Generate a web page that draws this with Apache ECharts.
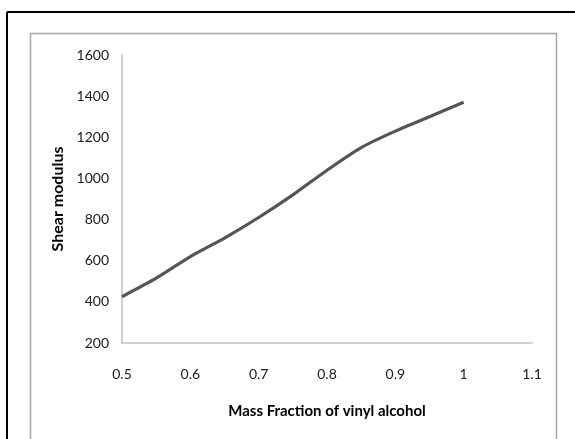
<!DOCTYPE html>
<html>
<head>
<meta charset="utf-8">
<script src="https://cdn.jsdelivr.net/npm/echarts@6/dist/echarts.min.js"></script>
<style>
  html, body { margin: 0; padding: 0; background: #fff; }
  #chart { width: 575px; height: 439px; }
</style>
</head>
<body>
<div id="chart"></div>
<script>
// Shear modulus versus mass fraction of vinyl alcohol
const massFraction = [0.5, 0.55, 0.6, 0.65, 0.7, 0.75, 0.8, 0.85, 0.9, 0.95, 1.0];
const shearModulus = [425, 515, 620, 710, 810, 920, 1040, 1150, 1230, 1300, 1370];
const xTitle = 'Mass Fraction of vinyl alcohol';
const yTitle = 'Shear modulus';

const chart = echarts.init(document.getElementById('chart'), null, { renderer: 'canvas' });
const font = 'Lato, "Open Sans", sans-serif';

chart.setOption({
  animation: false,
  backgroundColor: '#ffffff',
  graphic: [
    // outer frame (top and left edges)
    { type: 'line', shape: { x1: 7, y1: 12, x2: 575, y2: 12 }, style: { stroke: '#000', lineWidth: 2 } },
    { type: 'line', shape: { x1: 7, y1: 12, x2: 7, y2: 439 }, style: { stroke: '#000', lineWidth: 2 } },
    // chart area border
    { type: 'rect', shape: { x: 30.5, y: 33.5, width: 526, height: 420 },
      style: { fill: 'none', stroke: '#a6a6a6', lineWidth: 1.5 } }
  ],
  grid: { left: 122, right: 43, top: 55, bottom: 96 },
  xAxis: {
    type: 'value',
    min: 0.5, max: 1.1, interval: 0.1,
    name: xTitle,
    nameLocation: 'middle',
    nameGap: 61,
    nameTextStyle: { fontFamily: font, fontSize: 15, fontWeight: 'bold', color: '#000' },
    axisLine: { show: true, lineStyle: { color: '#c0c0c0', width: 1.5 } },
    axisTick: { show: false },
    splitLine: { show: false },
    axisLabel: {
      margin: 24, fontFamily: font, fontSize: 14, color: '#1a1a1a',
      formatter: v => String(+v.toFixed(1))
    }
  },
  yAxis: {
    type: 'value',
    min: 200, max: 1600, interval: 200,
    name: yTitle,
    nameLocation: 'middle',
    nameGap: 56,
    nameTextStyle: { fontFamily: font, fontSize: 16, fontWeight: 'bold', color: '#000' },
    axisLine: { show: true, lineStyle: { color: '#c0c0c0', width: 1.5 } },
    axisTick: { show: false },
    splitLine: { show: false },
    axisLabel: { margin: 13, fontFamily: font, fontSize: 14, color: '#1a1a1a', formatter: v => String(v) }
  },
  series: [{
    type: 'line',
    data: massFraction.map((x, i) => [x, shearModulus[i]]),
    showSymbol: false,
    smooth: 0.2,
    lineStyle: { color: '#555555', width: 3.2 }
  }]
});
</script>
</body>
</html>
